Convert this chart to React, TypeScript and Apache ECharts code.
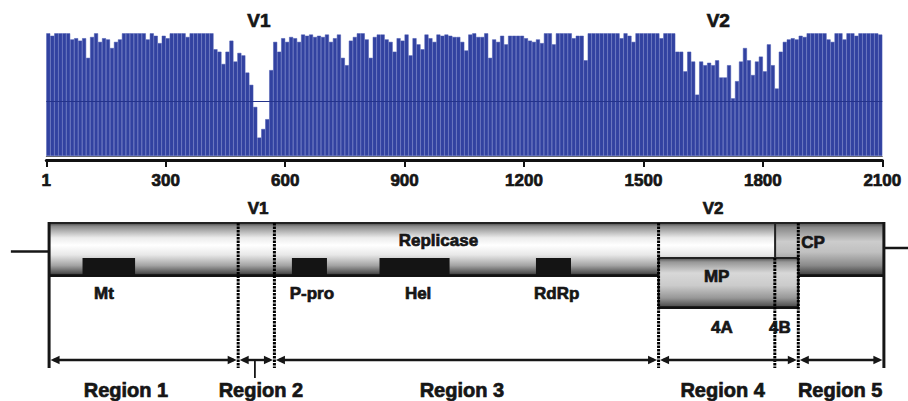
import React, { useEffect, useRef } from 'react';
import * as echarts from 'echarts';

// Conservation (%) per 10-nt bin, positions 1..2100
const CONSERVATION = [
  100, 98, 100, 100, 100, 100, 95, 96, 94, 96,
  80, 97, 100, 93, 96, 95, 88, 93, 95, 100,
  100, 100, 100, 100, 100, 95, 100, 98, 92, 98,
  96, 100, 100, 100, 100, 97, 100, 100, 100, 100,
  100, 100, 87, 85, 75, 85, 94, 77, 84, 82,
  68, 58, 40, 15, 22, 30, 70, 93, 85, 96,
  93, 97, 96, 93, 99, 98, 99, 97, 98, 97,
  99, 93, 96, 99, 80, 74, 94, 97, 100, 100,
  95, 80, 97, 99, 99, 95, 93, 85, 96, 94,
  99, 82, 96, 91, 87, 99, 96, 93, 99, 98,
  99, 98, 97, 97, 93, 86, 99, 100, 97, 97,
  100, 80, 95, 93, 98, 91, 98, 98, 98, 98,
  96, 94, 93, 95, 92, 100, 100, 91, 100, 100,
  100, 100, 96, 98, 98, 78, 100, 100, 100, 100,
  100, 100, 100, 100, 96, 100, 98, 93, 100, 100,
  100, 100, 100, 100, 96, 100, 100, 100, 85, 85,
  69, 85, 77, 50, 77, 74, 76, 74, 78, 64,
  64, 74, 47, 61, 77, 88, 78, 66, 77, 81,
  69, 91, 74, 55, 85, 93, 95, 96, 95, 98,
  97, 100, 100, 100, 100, 100, 95, 93, 100, 100,
  95, 100, 100, 98, 100, 100, 100, 100, 100, 99,
];
const BIN_SIZE = 10;
const AXIS_MAX = 2100;
const TICK_STEP = 300;
const MID_LINE = 45;

// Genome map (nucleotide positions)
const GENOME_START = 7;
const GENOME_END = 2104;
const LEADER_LEFT = -89;
const LEADER_RIGHT = 2165;

const ORF_NAMES = ['Replicase', 'CP', 'MP'];
const ORF_START = [7, 1831, 1538];
const ORF_END = [1831, 2104, 1889];
const ORF_LABEL_POS = [985, 1926, 1684];

const DOMAIN_NAMES = ['Mt', 'P-pro', 'Hel', 'RdRp'];
const DOMAIN_START = [91, 617, 837, 1230];
const DOMAIN_END = [223, 705, 1013, 1318];
const DOMAIN_LABEL_POS = [145, 667, 934, 1282];

const VARIABLE_NAMES = ['V1', 'V2'];
const VARIABLE_PLOT_POS = [534, 1688];
const VARIABLE_MAP_POS = [532, 1675];

const BOUNDARY_POS = [482, 573, 1538, 1830, 1889];
const BOUNDARY_FROM_MP = [false, false, false, true, false];

const SUBGENE_NAMES = ['4A', '4B'];
const SUBGENE_LABEL_POS = [1697, 1843];

const REGION_BOUNDS = [7, 482, 573, 1538, 1889, 2104];
const REGION_LABELS = ['Region 1', 'Region 2', 'Region 3', 'Region 4', 'Region 5'];
const REGION_LABEL_POS = [200, 539, 1044, 1699, 1994];
const REGION2_TICK_POS = 524;

// Layout rows (pixels from top of the figure)
const ROW = {
  vPlot: 20, vMap: 208, orfTop: 223, orfBottom: 276, mpTop: 258, mpBottom: 308,
  domTop: 258, domBottom: 275, domLabel: 293, subLabel: 327, arrow: 360,
  lineBottom: 368, regionTick: 378, regionLabel: 390, leaderL: 251.5, leaderR: 248,
};

const FAMILY = 'Arial, "Liberation Sans", Helvetica, sans-serif';
const INK = '#161616';
const font = (s: number) => `bold ${s}px ${FAMILY}`;

const grad = (stops: [number, string][]) =>
  new echarts.graphic.LinearGradient(0, 0, 0, 1, stops.map(([offset, color]) => ({ offset, color })));

const ORF_STYLE: Record<string, any> = {
  Replicase: {
    top: ROW.orfTop, bottom: ROW.orfBottom, labelY: 240,
    fill: () => grad([[0, '#444444'], [0.06, '#8a8a8a'], [0.28, '#ececec'], [0.42, '#ffffff'], [0.6, '#e8e8e8'], [0.8, '#a4a4a4'], [0.94, '#555555'], [1, '#262626']]),
  },
  CP: {
    top: ROW.orfTop, bottom: ROW.orfBottom, labelY: 242,
    fill: () => grad([[0, '#505050'], [0.08, '#888888'], [0.35, '#cccccc'], [0.55, '#c0c0c0'], [0.8, '#8a8a8a'], [1, '#363636']]),
  },
  MP: {
    top: ROW.mpTop, bottom: ROW.mpBottom, labelY: 276,
    fill: () => grad([[0, '#505050'], [0.08, '#979797'], [0.3, '#d8d8d8'], [0.55, '#cbcbcb'], [0.8, '#979797'], [1, '#404040']]),
  },
};

function text(str: string, x: number, y: number, size: number) {
  return {
    type: 'text',
    style: { text: str, x, y, fill: INK, stroke: INK, lineWidth: 0.7, font: font(size), align: 'center', verticalAlign: 'middle' },
  };
}

function arrow(x1: number, x2: number, y: number) {
  const h = 9, w = 4.2;
  return [
    { type: 'line', shape: { x1: x1 + 3, y1: y, x2: x2 - 3, y2: y }, style: { stroke: INK, lineWidth: 2.4 } },
    { type: 'polygon', shape: { points: [[x1, y], [x1 + h, y - w], [x1 + h, y + w]] }, style: { fill: INK } },
    { type: 'polygon', shape: { points: [[x2, y], [x2 - h, y - w], [x2 - h, y + w]] }, style: { fill: INK } },
  ];
}

export default function App() {
  const ref = useRef<HTMLDivElement>(null);

  useEffect(() => {
    if (!ref.current) return;
    const chart = echarts.init(ref.current, undefined, { renderer: 'svg' });
    const cats = CONSERVATION.map((_, i) => String(i * BIN_SIZE + 1));
    const mapAxis = { xAxisIndex: 2, yAxisIndex: 1, coordinateSystem: 'cartesian2d', silent: true, clip: false };

    const option: any = {
      animation: false,
      backgroundColor: '#ffffff',
      grid: [
        { left: 46.3, right: 25.7, top: 33.3, height: 122.7 },
        { left: 46.3, right: 25.7, top: 0, height: 401 },
      ],
      xAxis: [
        {
          type: 'category', gridIndex: 0, data: cats, boundaryGap: true,
          axisLine: { show: true, lineStyle: { color: '#6a6a6a', width: 1 } },
          axisTick: { show: false }, axisLabel: { show: false }, splitLine: { show: false },
        },
        {
          type: 'value', gridIndex: 0, min: 0, max: AXIS_MAX, interval: TICK_STEP, position: 'bottom', offset: 4,
          axisLine: { show: true, lineStyle: { color: '#111111', width: 3 } },
          axisTick: { show: true, length: 7, lineStyle: { color: '#111111', width: 2 } },
          axisLabel: {
            show: true, margin: 12, color: INK, fontSize: 17, fontWeight: 'bold', fontFamily: FAMILY,
            textBorderColor: INK, textBorderWidth: 0.7,
            showMinLabel: true, showMaxLabel: true,
            formatter: (v: number) => (v === 0 ? '1' : String(v)),
          },
          splitLine: { show: false },
        },
        { type: 'value', gridIndex: 1, min: 0, max: AXIS_MAX, show: false },
      ],
      yAxis: [
        { type: 'value', gridIndex: 0, min: 0, max: 100, show: false },
        { type: 'value', gridIndex: 1, min: 0, max: 401, inverse: true, show: false },
      ],
      series: [
        {
          type: 'bar', xAxisIndex: 0, yAxisIndex: 0, data: CONSERVATION, barCategoryGap: '0%',
          itemStyle: { color: '#3242a0', borderColor: '#4858b2', borderWidth: 0.5 },
          silent: true,
          markLine: {
            silent: true, symbol: 'none', label: { show: false },
            lineStyle: { color: '#24338a', width: 1, type: 'solid' },
            data: [{ yAxis: MID_LINE }],
          },
        },
        // leader lines
        {
          type: 'custom', ...mapAxis, data: [[GENOME_START, GENOME_END, 0]],
          renderItem: (params: any, api: any) => {
            const X = (p: number) => api.coord([p, 0])[0];
            const Y = (r: number) => api.coord([0, r])[1];
            return {
              type: 'group',
              children: [
                { type: 'line', shape: { x1: X(LEADER_LEFT), y1: Y(ROW.leaderL), x2: X(GENOME_START), y2: Y(ROW.leaderL) }, style: { stroke: INK, lineWidth: 2.5 } },
                { type: 'line', shape: { x1: X(GENOME_END), y1: Y(ROW.leaderR), x2: X(LEADER_RIGHT), y2: Y(ROW.leaderR) }, style: { stroke: INK, lineWidth: 2.5 } },
              ],
            };
          },
        },
        // ORFs
        {
          type: 'custom', ...mapAxis, data: ORF_START.map((s, i) => [s, ORF_END[i], i]),
          renderItem: (params: any, api: any) => {
            const i = params.dataIndex;
            const st = ORF_STYLE[ORF_NAMES[i]];
            const x1 = api.coord([api.value(0), 0])[0];
            const x2 = api.coord([api.value(1), 0])[0];
            const y1 = api.coord([0, st.top])[1];
            const y2 = api.coord([0, st.bottom])[1];
            return {
              type: 'group',
              children: [
                { type: 'rect', shape: { x: x1, y: y1, width: x2 - x1, height: y2 - y1 }, style: { fill: st.fill(), stroke: '#222222', lineWidth: 1.8 } },
                { type: 'line', shape: { x1, y1: y2 - 0.5, x2, y2: y2 - 0.5 }, style: { stroke: '#111111', lineWidth: 2.4 } },
                text(ORF_NAMES[i], api.coord([ORF_LABEL_POS[i], 0])[0], api.coord([0, st.labelY])[1], 17),
              ],
            };
          },
        },
        // domains
        {
          type: 'custom', ...mapAxis, data: DOMAIN_START.map((s, i) => [s, DOMAIN_END[i], i]),
          renderItem: (params: any, api: any) => {
            const i = params.dataIndex;
            const x1 = api.coord([api.value(0), 0])[0];
            const x2 = api.coord([api.value(1), 0])[0];
            const y1 = api.coord([0, ROW.domTop])[1];
            const y2 = api.coord([0, ROW.domBottom])[1];
            return {
              type: 'group',
              children: [
                { type: 'rect', shape: { x: x1, y: y1, width: x2 - x1, height: y2 - y1 }, style: { fill: '#141414' } },
                text(DOMAIN_NAMES[i], api.coord([DOMAIN_LABEL_POS[i], 0])[0], api.coord([0, ROW.domLabel])[1], 17),
              ],
            };
          },
        },
        // genome end bars
        {
          type: 'custom', ...mapAxis, data: [[GENOME_START, GENOME_END, 0]],
          renderItem: (params: any, api: any) => {
            const X = (p: number) => api.coord([p, 0])[0];
            const Y = (r: number) => api.coord([0, r])[1];
            return {
              type: 'group',
              children: [
                { type: 'line', shape: { x1: X(GENOME_START), y1: Y(ROW.orfTop - 1), x2: X(GENOME_START), y2: Y(ROW.lineBottom) }, style: { stroke: INK, lineWidth: 3 } },
                { type: 'line', shape: { x1: X(GENOME_END), y1: Y(ROW.orfTop - 1), x2: X(GENOME_END), y2: Y(ROW.lineBottom) }, style: { stroke: INK, lineWidth: 3 } },
              ],
            };
          },
        },
        // variable-region boundaries (dotted)
        {
          type: 'custom', ...mapAxis, data: BOUNDARY_POS.map((p, i) => [p, p, i]),
          renderItem: (params: any, api: any) => {
            const i = params.dataIndex;
            const x = api.coord([api.value(0), 0])[0];
            const y1 = api.coord([0, BOUNDARY_FROM_MP[i] ? ROW.mpTop : ROW.orfTop])[1];
            const y2 = api.coord([0, ROW.lineBottom])[1];
            return { type: 'line', shape: { x1: x, y1, x2: x, y2 }, style: { stroke: '#000000', lineWidth: 3, lineDash: [2.4, 1.1] } };
          },
        },
        // regions
        {
          type: 'custom', ...mapAxis, data: REGION_LABELS.map((_, i) => [REGION_BOUNDS[i], REGION_BOUNDS[i + 1], i]),
          renderItem: (params: any, api: any) => {
            const i = params.dataIndex;
            const x1 = api.coord([api.value(0), 0])[0];
            const x2 = api.coord([api.value(1), 0])[0];
            const y = api.coord([0, ROW.arrow])[1];
            const children: any[] = [...arrow(x1 + 1.5, x2 - 1.5, y)];
            if (i === 1) {
              const xt = api.coord([REGION2_TICK_POS, 0])[0];
              children.push({ type: 'line', shape: { x1: xt, y1: y, x2: xt, y2: api.coord([0, ROW.regionTick])[1] }, style: { stroke: INK, lineWidth: 1.8 } });
            }
            children.push(text(REGION_LABELS[i], api.coord([REGION_LABEL_POS[i], 0])[0], api.coord([0, ROW.regionLabel])[1], 20));
            return { type: 'group', children };
          },
        },
        // V labels and sub-gene labels
        {
          type: 'custom', ...mapAxis, data: VARIABLE_NAMES.map((_, i) => [VARIABLE_PLOT_POS[i], VARIABLE_MAP_POS[i], i]),
          renderItem: (params: any, api: any) => {
            const i = params.dataIndex;
            const children: any[] = [
              text(VARIABLE_NAMES[i], api.coord([api.value(0), 0])[0], api.coord([0, ROW.vPlot])[1], 19),
              text(VARIABLE_NAMES[i], api.coord([api.value(1), 0])[0], api.coord([0, ROW.vMap])[1], 17),
              text(SUBGENE_NAMES[i], api.coord([SUBGENE_LABEL_POS[i], 0])[0], api.coord([0, ROW.subLabel])[1], 17),
            ];
            return { type: 'group', children };
          },
        },
      ],
    };

    chart.setOption(option);
    return () => chart.dispose();
  }, []);

  return <div ref={ref} style={{ position: 'fixed', left: 0, top: 0, width: 908, height: 401, background: '#fff' }} />;
}
